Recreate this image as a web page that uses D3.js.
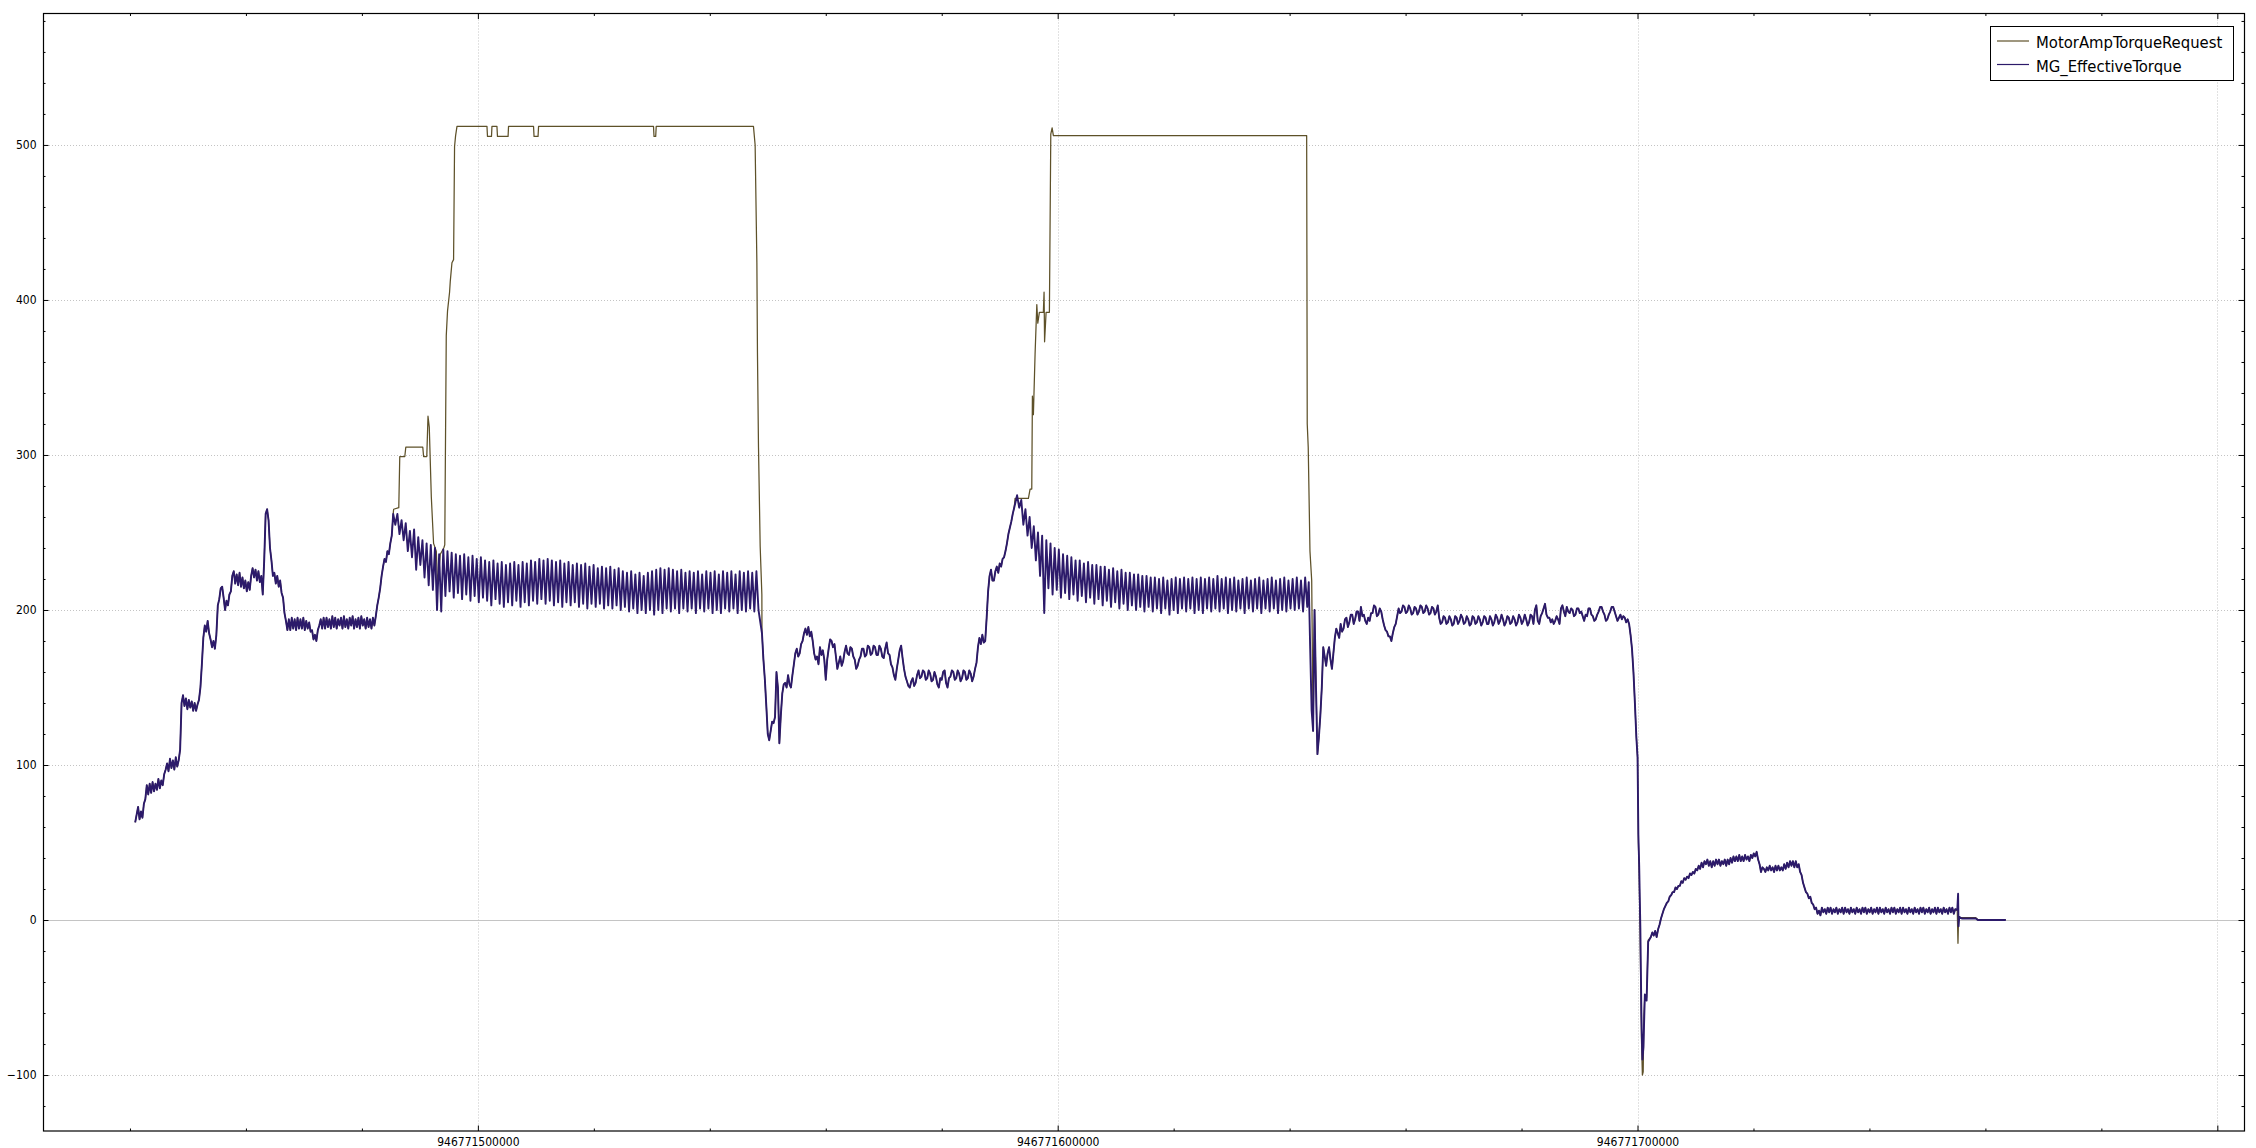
<!DOCTYPE html>
<html><head><meta charset="utf-8">
<script src="https://cdn.jsdelivr.net/npm/d3@7"></script>
<style>
html,body{margin:0;padding:0;background:#fff;}
svg{display:block;}
</style></head><body>
<svg id="chart" width="2256" height="1148"></svg>
<script>
// ---------------- DATA ----------------
// Time stamps in ms; series samples are given in seconds after T0.
const T0 = 946771400000;
const xDomain = [946771425000, 946771804600];
const yDomain = [-136.1, 584.8];
const xMajorTicks = [946771500000, 946771600000, 946771700000, 946771800000];
const xTickLabels = ["946771500000", "946771600000", "946771700000", ""];
const yMajorTicks = [-100, 0, 100, 200, 300, 400, 500];
const xMinorStep = 20000;
const yMinorStep = 20;
const seriesNames = ["MotorAmpTorqueRequest", "MG_EffectiveTorque"];
const seriesColors = ["#5e5129", "#2c1a6a"];

// MG_EffectiveTorque — sampled runs: start (s), step (s), values
const effRampA_start = 40.9, effRampA_step = 0.25;
const effRampA = [63,68,73,65,70,66,75,78,87,81,88,82,89,83,88,84,91,85,90,87,
  94,97,101,96,104,98,103,97,105,99,103,110,140,145,138,143,136,142,137,141,
  135,140,135,139,142,150,165,182,190,186,193,185,181,176,180,175,184,203,207,214,
  215,208,200,206,203,210,212,222,225,217,223,216,224,215,221,214,219,212,218,213,
  222,227,221,226,219,225,218,222,210,232,262,265,258,240,232,222,224,217,222,215,
  219,211,208,198,193,187,194,187,195,188,194,187,195,188,194,188,195,187,193,188,
  192,186,187,181,184,180,187,190,194,188,195,188,195,189,194,188,196,189,195,188,
  194,190,195,188,196,189,194,188,195,190,196,188,194,189,195,188,196,190,194,188,
  195,189,194,188,195,190,196,203,208,214,222,228,233,231,238,236,243,248,262];

const effOscA_start = 85.76, effOscA_step = 0.36;
const effOscA = [255,262,249,258,245,256,238,251,234,252,226,247,229,245,221,243,216,242,213,240,
  200,236,199,239,209,238,212,237,208,236,211,235,207,236,210,234,206,235,209,233,
  205,234,208,232,206,231,203,232,207,230,204,231,202,229,205,230,203,231,206,229,
  202,231,205,230,203,232,206,231,204,233,207,232,204,233,206,232,203,231,205,232,
  202,230,205,231,203,229,205,230,202,229,204,230,201,228,204,229,202,227,204,228,
  201,227,203,228,201,226,203,227,200,225,202,224,199,225,201,223,198,224,200,222,
  198,224,200,225,197,226,200,227,198,226,201,227,199,226,201,225,198,226,201,224,
  199,225,201,224,198,225,201,223,199,225,201,224,198,225,200,223,198,225,201,224,
  199,225,201,223,198,225,200,224,199,225,201,224,199,225,200];

const effDipB_start = 149.0, effDipB_step = 0.25;
const effDipB = [185,168,155,138,120,116,122,128,127,131,160,150,114,132,146,152,153,150,158,152,
  150,158,165,172,175,170,172,178,180,185,188,184,189,183,186,180,172,168,170,165,
  176,171,174,168,155,168,175,181,180,176,178,170,162,166,170,164,167,173,177,172,
  171,176,175,170,168,162,164,168,170,175,175,170,171,177,176,171,172,177,176,171,
  171,177,175,170,169,175,179,172,171,165,163,158,155,162,168,174,177,169,162,157,
  154,151,150,154,156,151,153,158,161,156,157,161,160,155,156,161,159,154,155,160,
  157,152,150,156,155,160,161,153,150,156,157,161,160,155,156,161,159,154,156,161,
  160,155,156,161,159,154,157,162,166,176,182,178,184,179,180,195,212,222,226,219,
  219,225,228,224,230,228,233,234,238,243,249,253,257,262,266,270,274];

const effOscB_start = 193.36, effOscB_step = 0.36;
const effOscB = [266,271,255,265,248,260,240,254,232,250,222,248,198,245,214,243,210,240,213,239,
  208,236,211,235,207,234,210,232,206,232,209,230,205,231,208,229,204,229,207,228,
  203,228,206,226,202,227,205,225,201,226,204,224,200,224,203,223,200,223,202,222,
  199,222,202,221,199,221,201,220,198,221,201,219,197,220,200,221,198,220,201,221,
  199,220,201,221,198,220,200,221,198,220,201,221,199,220,201,222,199,220,201,221,
  198,220,200,221,199,219,201,220,198,221,201,219,199,220,201,221,198,219,201,220,
  199,221,201,219,198,220,200,221,199,219,201,220,200,221,201,219,199,221,202];

const effPlateauC_start = 243.3, effPlateauC_step = 0.25;
const effPlateauC = [218,175,135,122,200,150,107,118,132,150,176,170,164,172,176,168,162,172,182,188,
  185,182,191,186,188,194,195,189,192,197,197,191,194,199,199,193,202,196,197,193,
  191,195,193,198,198,203,202,196,197,201,199,194,190,187,186,183,183,180,185,189,
  191,196,201,198,199,203,202,198,199,203,201,197,198,202,201,197,199,203,202,198,
  199,203,201,197,198,202,201,197,199,203,195,191,192,196,195,191,192,196,194,190,
  191,196,195,191,193,197,195,191,192,196,194,190,191,196,195,191,192,196,194,190,
  192,196,195,191,191,196,194,190,192,197,195,191,193,197,194,190,192,196,195,191,
  192,196,194,190,192,197,195,191,193,197,194,190,192,197,196,191,200,203,193,191,
  196,198,201,204,197,195,195,192,194,191,193,196,194,191,201,203,199,196,202,199,
  198,201,200,196,197,201,201,198,199,196,193,197,196,201,201,197,196,193,194,197,
  199,202,202,199,197,193,194,197,199,202,202,199,196,193,195,197,194,196,195,192,
  194,191,184,175,160,140,118];

const effDropTimes  = [300.01,300.15,300.29,300.49,300.67,300.84,301.02,301.27,301.57,301.84];
const effDropValues = [105,55,35,-5,-60,-90,-82,-48,-52,-14];

const effRecoveryD_start = 302.3, effRecoveryD_step = 0.25;
const effRecoveryD = [-11,-8,-10,-7,-11,-6,-3,1,4,7,9,11,12,15,16,18,18,21,20,22,
  22,25,24,27,26,28,27,30,29,31,30,33,32,35,33,37,34,38,36,39,
  35,38,34,38,35,39,36,39,35,38,36,39,35,39,36,40,37,41,38,41,
  38,42,38,41,38,42,39,41,38,42,40,43,41,44,39,36,31,34,33,31,
  34,32,35,32,34,31,35,32,35,32,34,32,36,33,37,34,38,35,38,34,
  38,34,36,31,29,24,21,18,17,14,15,11,10,7,8,4,6,3,8,5,
  7,4,8,5,8,4,7,5,8,4,7,5,8,4,8,5,7,4,8,5,
  7,4,8,5,7,4,8,5,8,4,7,5,8,4,7,5,8,4,8,5,
  7,4,8,5,7,4,8,5,8,4,7,5,8,4,8,5,7,4,8,5,
  7,4,8,5,7,4,8,5,8,4,7,5,8,4,7,5,8,4,8,5,
  7,4,8,5,7,4,8,5,8,4,7];

const effTailTimes  = [355.15,355.29,355.37,355.49,355.93,358.34,358.69,363.52];
const effTailValues = [6.5,17,-4,2,1,1,0,0];

// MotorAmpTorqueRequest — where it departs from the effective torque
const reqRise1Times = [85.47,86.36,86.53,87.40,87.57,90.50,90.64,91.19,91.40,91.62,91.97,92.36,92.83,93.05,93.52,94.12,94.29,94.55,94.77,95.12,95.24,95.53,95.81,95.98,96.16,96.40,
  101.57,101.66,102.35,102.43,103.29,103.38,105.21,105.29,109.60,109.69,110.38,110.47,130.29,130.38,130.67,130.76,147.53,147.82,148.12,148.22,148.40,148.69,148.98];
const reqRise1Values = [265,266,299,299,305,305,299,299,325,318,273,243,238,216,236,240,242,377,393,405,412,424,426,499,506,512,
  512,505.5,505.5,512,512,505.5,505.5,512,512,505.5,505.5,512,512,505.5,505.5,512,512,500,424,366,305,241,210];

const reqRise2Times = [192.65,194.95,195.24,195.53,195.64,195.81,196.10,196.40,196.57,196.84,197.53,197.65,197.74,198.00,198.57,198.81,199.04,199.26,242.94,243.04,243.21,243.51,243.81];
const reqRise2Values = [272,272,278,278,338,326,365,397,385,392,392,405,373,392,392,507,511,506,506,320,305,238,219];

const reqDropTimes  = [300.01,300.15,300.29,300.49,300.67,300.84,300.98,301.10,301.27,301.57,301.84];
const reqDropValues = [105,50,30,-20,-75,-100,-98,-62,-48,-50,-13];

const reqTailTimes  = [355.15,355.27,355.37,355.49,355.93,358.34,358.69,363.52];
const reqTailValues = [6,-15,1,1.5,1.5,1.5,0.3,0.3];

// ---------------- BUILD ----------------
function run(start, step, values){ return values.map((v,i)=>({t:T0+(start+step*i)*1000, v})); }
function pairs(times, values){ return times.map((s,i)=>({t:T0+s*1000, v:values[i]})); }

const rA = run(effRampA_start, effRampA_step, effRampA);
const rOA = run(effOscA_start, effOscA_step, effOscA);
const rB = run(effDipB_start, effDipB_step, effDipB);
const rOB = run(effOscB_start, effOscB_step, effOscB);
const rC = run(effPlateauC_start, effPlateauC_step, effPlateauC);
const rDrop = pairs(effDropTimes, effDropValues);
const rD = run(effRecoveryD_start, effRecoveryD_step, effRecoveryD);
const rTail = pairs(effTailTimes, effTailValues);
const effective = [].concat(rA, rOA, rB, rOB, rC, rDrop, rD, rTail);

const q1 = pairs(reqRise1Times, reqRise1Values);
const q2 = pairs(reqRise2Times, reqRise2Values);
const qDrop = pairs(reqDropTimes, reqDropValues);
const qTail = pairs(reqTailTimes, reqTailValues);
const request = [].concat(
  rA.filter(d=>d.t < q1[0].t),
  q1,
  rB.filter(d=>d.t > q1[q1.length-1].t && d.t < q2[0].t),
  q2,
  rC.filter(d=>d.t > q2[q2.length-1].t),
  qDrop,
  rD,
  qTail);

// ---------------- DRAW ----------------
const L=43, R=2244, T=13.5, B=1131;
const svg = d3.select('#chart');
const x = d3.scaleLinear().domain(xDomain).range([L,R]);
const y = d3.scaleLinear().domain(yDomain).range([B,T]);
const fontAxis = "'DejaVu Sans Condensed','DejaVu Sans',sans-serif";

svg.append('rect').attr('width',2256).attr('height',1148).attr('fill','#fff');

// grid
const grid = svg.append('g');
yMajorTicks.filter(v=>v!==0).forEach(v=>{
  const yy = Math.round(y(v))+0.5;
  grid.append('line').attr('x1',L).attr('x2',R).attr('y1',yy).attr('y2',yy)
    .attr('stroke','#c4c4c4').attr('stroke-width',1).attr('stroke-dasharray','1,2');
});
xMajorTicks.forEach(v=>{
  const xx = Math.round(x(v))+0.5;
  grid.append('line').attr('x1',xx).attr('x2',xx).attr('y1',T).attr('y2',B)
    .attr('stroke','#c4c4c4').attr('stroke-width',1).attr('stroke-dasharray','1,2');
});
const y0 = Math.round(y(0))+0.5;
grid.append('line').attr('x1',L).attr('x2',R).attr('y1',y0).attr('y2',y0)
  .attr('stroke','#c4c4c4').attr('stroke-width',1);

// series
svg.append('clipPath').attr('id','plotclip').append('rect')
  .attr('x',L).attr('y',T).attr('width',R-L).attr('height',B-T);
const line = d3.line().x(d=>x(d.t)).y(d=>y(d.v));
const plot = svg.append('g').attr('clip-path','url(#plotclip)');
plot.append('path').datum(request).attr('d',line).attr('fill','none')
  .attr('stroke',seriesColors[0]).attr('stroke-width',1.25).attr('stroke-linejoin','round');
plot.append('path').datum(effective).attr('d',line).attr('fill','none')
  .attr('stroke',seriesColors[1]).attr('stroke-width',1.9).attr('stroke-linejoin','round');

// axes
const xMinor = d3.range(946771440000, 946771800001, xMinorStep).filter(v=>!xMajorTicks.includes(v));
const yMinor = d3.range(-120, 581, yMinorStep).filter(v=>v%100!==0);
function styleAxis(g){ g.select('.domain').remove(); g.selectAll('line').attr('stroke','#000'); g.selectAll('text').attr('fill','#000').style('font-family',fontAxis).style('font-size','12px'); }

svg.append('g').attr('transform',`translate(0,${B})`)
  .call(d3.axisBottom(x).tickValues(xMajorTicks).tickSize(-5.5).tickPadding(6.5)
    .tickFormat((d,i)=>xTickLabels[i])).call(styleAxis);
svg.append('g').attr('transform',`translate(0,${B})`)
  .call(d3.axisBottom(x).tickValues(xMinor).tickSize(-2.5).tickFormat('')).call(styleAxis);
svg.append('g').attr('transform',`translate(0,${T})`)
  .call(d3.axisTop(x).tickValues(xMajorTicks).tickSize(-5.5).tickFormat('')).call(styleAxis);
svg.append('g').attr('transform',`translate(0,${T})`)
  .call(d3.axisTop(x).tickValues(xMinor).tickSize(-2.5).tickFormat('')).call(styleAxis);

svg.append('g').attr('transform',`translate(${L},0)`)
  .call(d3.axisLeft(y).tickValues(yMajorTicks).tickSize(-5.5).tickPadding(6.5).tickFormat(d3.format('d'))).call(styleAxis);
svg.append('g').attr('transform',`translate(${L},0)`)
  .call(d3.axisLeft(y).tickValues(yMinor).tickSize(-2.5).tickFormat('')).call(styleAxis);
svg.append('g').attr('transform',`translate(${R},0)`)
  .call(d3.axisRight(y).tickValues(yMajorTicks).tickSize(-5.5).tickFormat('')).call(styleAxis);
svg.append('g').attr('transform',`translate(${R},0)`)
  .call(d3.axisRight(y).tickValues(yMinor).tickSize(-2.5).tickFormat('')).call(styleAxis);

// frame
svg.append('rect').attr('x',L+0.5).attr('y',T).attr('width',R-L).attr('height',B-T)
  .attr('fill','none').attr('stroke','#000').attr('stroke-width',1.2);

// legend
const lg = svg.append('g');
lg.append('rect').attr('x',1990.5).attr('y',26.5).attr('width',243).attr('height',54)
  .attr('fill','#fff').attr('stroke','#000').attr('stroke-width',1);
seriesNames.forEach((name,i)=>{
  const yy = 41 + i*23.5;
  lg.append('line').attr('x1',1997).attr('x2',2029).attr('y1',yy).attr('y2',yy)
    .attr('stroke',seriesColors[i]).attr('stroke-width',1.2);
  lg.append('text').attr('x',2036).attr('y',yy+7).text(name)
    .style('font-family',fontAxis).style('font-size','16.5px').attr('fill','#000');
});
</script>
</body></html>
